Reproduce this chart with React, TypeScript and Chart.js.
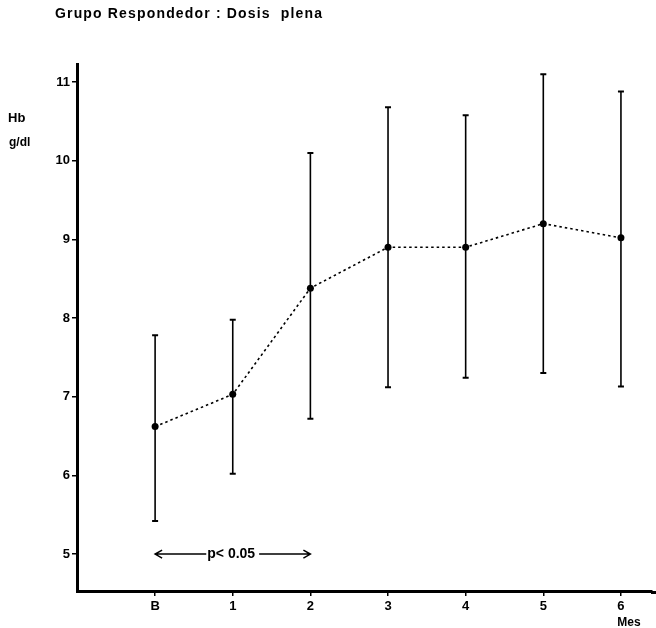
import React, { useEffect, useRef } from "react";
import { Chart, registerables } from "chart.js";

Chart.register(...registerables);

const titleText = "Grupo Respondedor : Dosis  plena";
const yAxisLabel = "Hb";
const yAxisUnit = "g/dl";
const xAxisLabel = "Mes";
const annotationText = "p< 0.05";

const xLabels = ["B", "1", "2", "3", "4", "5", "6"];
const xValues = [0, 1, 2, 3, 4, 5, 6];
const meanHb = [6.62, 7.03, 8.38, 8.9, 8.9, 9.2, 9.02];
const upperHb = [7.78, 7.98, 10.1, 10.68, 10.58, 11.1, 10.88];
const lowerHb = [5.42, 6.02, 6.72, 7.12, 7.24, 7.3, 7.13];
const yTicks = [5, 6, 7, 8, 9, 10, 11];
const annotationFrom = 0;
const annotationTo = 2;
const annotationY = 5;

const FONT = "Liberation Sans, Arial, Helvetica, sans-serif";

const decorPlugin = {
  id: "decor",
  beforeDatasetsDraw(chart: any) {
    const { ctx, scales } = chart;
    const xs = scales.x;
    const ys = scales.y;
    ctx.save();
    ctx.strokeStyle = "#000";
    ctx.fillStyle = "#000";
    xValues.forEach((xv, i) => {
      const px = xs.getPixelForValue(xv);
      const top = ys.getPixelForValue(upperHb[i]);
      const bot = ys.getPixelForValue(lowerHb[i]);
      ctx.lineWidth = 1.6;
      ctx.beginPath();
      ctx.moveTo(px, top);
      ctx.lineTo(px, bot);
      ctx.stroke();
      ctx.lineWidth = 2;
      ctx.beginPath();
      ctx.moveTo(px - 3, top);
      ctx.lineTo(px + 3, top);
      ctx.moveTo(px - 3, bot);
      ctx.lineTo(px + 3, bot);
      ctx.stroke();
    });
    ctx.restore();
  },
  afterDraw(chart: any) {
    const { ctx, scales, chartArea } = chart;
    const xs = scales.x;
    const ys = scales.y;
    ctx.save();
    ctx.fillStyle = "#000";
    ctx.strokeStyle = "#000";

    // extend x axis line to the right edge
    ctx.lineWidth = 3;
    ctx.beginPath();
    ctx.moveTo(chartArea.right - 1, chartArea.bottom + 1.5);
    ctx.lineTo(chart.width, chartArea.bottom + 1.5);
    ctx.stroke();

    // title
    ctx.font = `bold 14px ${FONT}`;
    ctx.textBaseline = "alphabetic";
    ctx.textAlign = "left";
    const w = ctx.measureText(titleText).width;
    const target = 267;
    try {
      (ctx as any).letterSpacing = `${(target - w) / (titleText.length - 1)}px`;
    } catch (e) {}
    ctx.fillText(titleText, 55, 18);
    try {
      (ctx as any).letterSpacing = "0px";
    } catch (e) {}

    // y label
    ctx.font = `bold 13px ${FONT}`;
    ctx.fillText(yAxisLabel, 8, 122);
    ctx.font = `bold 12px ${FONT}`;
    ctx.fillText(yAxisUnit, 9, 146);

    // x label
    ctx.textAlign = "center";
    ctx.textBaseline = "top";
    ctx.font = `bold 12px ${FONT}`;
    ctx.fillText(xAxisLabel, xs.getPixelForValue(6) + 8, 617);

    // annotation arrow
    const x0 = xs.getPixelForValue(annotationFrom);
    const x1 = xs.getPixelForValue(annotationTo);
    const y = ys.getPixelForValue(annotationY);
    ctx.font = `bold 14px ${FONT}`;
    ctx.textBaseline = "middle";
    const tw = ctx.measureText(annotationText).width;
    const cx = x0 + (x1 - x0) * 0.49;
    ctx.fillText(annotationText, cx, y);
    ctx.lineWidth = 1.5;
    ctx.beginPath();
    ctx.moveTo(x0, y);
    ctx.lineTo(cx - tw / 2 - 1, y);
    ctx.moveTo(cx + tw / 2 + 4, y);
    ctx.lineTo(x1, y);
    ctx.moveTo(x0 + 7, y - 4);
    ctx.lineTo(x0, y);
    ctx.lineTo(x0 + 7, y + 4);
    ctx.moveTo(x1 - 7, y - 4);
    ctx.lineTo(x1, y);
    ctx.lineTo(x1 - 7, y + 4);
    ctx.stroke();
    ctx.restore();
  },
};

export default function App() {
  const ref = useRef<HTMLCanvasElement>(null);

  useEffect(() => {
    document.body.style.margin = "0";
    const canvas = ref.current;
    if (!canvas) return;
    const chart = new Chart(canvas, {
      type: "line",
      data: {
        datasets: [
          {
            data: xValues.map((x, i) => ({ x, y: meanHb[i] })),
            borderColor: "#000",
            borderWidth: 1.6,
            borderDash: [2.5, 3],
            pointRadius: 3.5,
            pointBackgroundColor: "#000",
            pointBorderColor: "#000",
            pointBorderWidth: 0,
            tension: 0,
            fill: false,
          },
        ],
      },
      options: {
        responsive: false,
        animation: false,
        devicePixelRatio: 1,
        layout: { padding: { top: 64, left: 0, right: 0, bottom: 0 } },
        plugins: {
          legend: { display: false },
          tooltip: { enabled: false },
          title: { display: false },
        },
        scales: {
          x: {
            type: "linear",
            min: -1.006,
            max: 6.4,
            afterBuildTicks(scale: any) {
              scale.ticks = xValues.map((v) => ({ value: v }));
            },
            afterFit(scale: any) {
              scale.height = 37;
            },
            ticks: {
              autoSkip: false,
              maxRotation: 0,
              padding: 3,
              color: "#000",
              font: { family: FONT, size: 13, weight: "bold" },
              callback: (_v: any, i: number) => xLabels[i] ?? "",
            },
            grid: {
              drawOnChartArea: false,
              drawTicks: true,
              tickLength: 5,
              color: "#000",
              lineWidth: 1.5,
            },
            border: { display: true, color: "#000", width: 3 },
          },
          y: {
            type: "linear",
            min: 4.53,
            max: 11.23,
            afterBuildTicks(scale: any) {
              scale.ticks = yTicks.map((v) => ({ value: v }));
            },
            afterFit(scale: any) {
              scale.width = 77;
            },
            ticks: {
              padding: 2,
              color: "#000",
              font: { family: FONT, size: 13, weight: "bold" },
              callback: (v: any) => String(v),
            },
            grid: {
              drawOnChartArea: false,
              drawTicks: true,
              tickLength: 5,
              color: "#000",
              lineWidth: 1.5,
            },
            border: { display: true, color: "#000", width: 3 },
          },
        },
      },
      plugins: [decorPlugin],
    } as any);
    return () => chart.destroy();
  }, []);

  return (
    <div style={{ width: 656, height: 628, background: "#fff" }}>
      <canvas ref={ref} width={656} height={628} style={{ display: "block" }} />
    </div>
  );
}
